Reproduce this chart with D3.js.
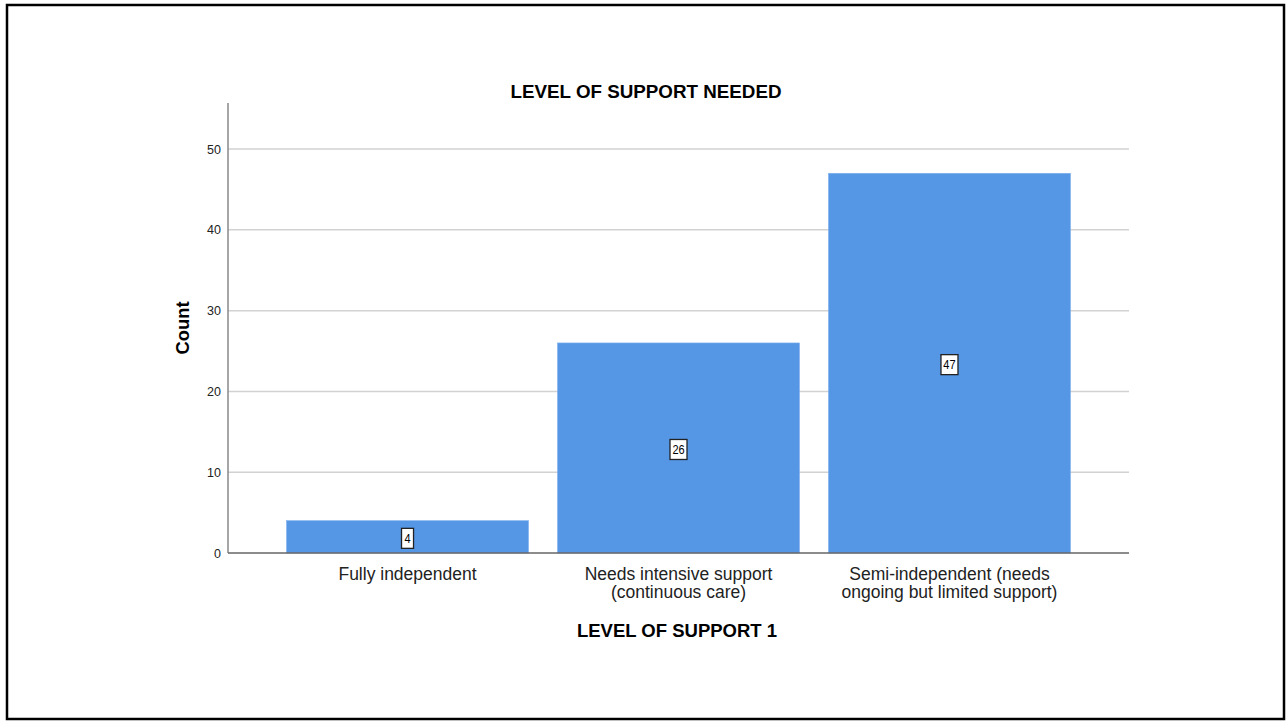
<!DOCTYPE html>
<html>
<head>
<meta charset="utf-8">
<title>Level of support needed</title>
<style>
  body { margin: 0; background: #fff; }
  svg text { font-family: "Liberation Sans", Arial, sans-serif; }
</style>
</head>
<body>
<div id="chart"></div>
<script src="https://d3js.org/d3.v7.min.js"></script>
<script>
// data
var categories = [
    ["Fully independent"],
    ["Needs intensive support", "(continuous care)"],
    ["Semi-independent (needs", "ongoing but limited support)"]
];
var counts = [4, 26, 47];
var yTicks = [0, 10, 20, 30, 40, 50];

var W = 1286, H = 721;
var plotLeft = 228, plotRight = 1129, plotTop = 103, plotBottom = 553;

var svg = d3.select("#chart").append("svg")
    .attr("width", W)
    .attr("height", H);

// outer frame
svg.append("rect")
    .attr("x", 7).attr("y", 5)
    .attr("width", 1277).attr("height", 714)
    .attr("fill", "none")
    .attr("stroke", "#000")
    .attr("stroke-width", 2.5);

var x = d3.scaleBand()
    .domain(d3.range(counts.length))
    .range([plotLeft, plotRight])
    .paddingInner(0.107)
    .paddingOuter(0.216);

var y = d3.scaleLinear()
    .domain([0, 55.7])
    .range([plotBottom, plotTop]);

// gridlines
svg.selectAll("line.grid")
    .data(yTicks.filter(function(d) { return d > 0; }))
    .enter().append("line")
    .attr("class", "grid")
    .attr("x1", plotLeft).attr("x2", plotRight)
    .attr("y1", function(d) { return y(d); })
    .attr("y2", function(d) { return y(d); })
    .attr("stroke", "#d2d2d2")
    .attr("stroke-width", 1.5);

// bars
svg.selectAll("rect.bar")
    .data(counts)
    .enter().append("rect")
    .attr("class", "bar")
    .attr("x", function(d, i) { return x(i); })
    .attr("y", function(d) { return y(d); })
    .attr("width", x.bandwidth())
    .attr("height", function(d) { return plotBottom - y(d); })
    .attr("fill", "#5596e5")
    .attr("stroke", "#7fb0ee")
    .attr("stroke-width", 0.6);

// y axis
var yAxis = svg.append("g")
    .attr("transform", "translate(" + plotLeft + ",0)")
    .call(d3.axisLeft(y).tickValues(yTicks).tickSize(0).tickPadding(7));
yAxis.select(".domain").remove();
yAxis.selectAll("text")
    .attr("font-size", 12.5)
    .attr("fill", "#222")
    .style("font-family", "'Liberation Sans', Arial, sans-serif");

svg.append("line")
    .attr("x1", plotLeft).attr("x2", plotLeft)
    .attr("y1", plotTop).attr("y2", plotBottom)
    .attr("stroke", "#888").attr("stroke-width", 1.5);

// x axis
svg.append("line")
    .attr("x1", plotLeft).attr("x2", plotRight)
    .attr("y1", plotBottom).attr("y2", plotBottom)
    .attr("stroke", "#666").attr("stroke-width", 1.3);

var catLabels = svg.selectAll("text.cat")
    .data(categories)
    .enter().append("text")
    .attr("class", "cat")
    .attr("text-anchor", "middle")
    .attr("font-size", 17.5)
    .attr("fill", "#222")
    .attr("x", function(d, i) { return x(i) + x.bandwidth() / 2; })
    .attr("y", 580);
catLabels.selectAll("tspan")
    .data(function(d) { return d; })
    .enter().append("tspan")
    .attr("x", function() { return d3.select(this.parentNode).attr("x"); })
    .attr("dy", function(d, j) { return j === 0 ? 0 : 18; })
    .text(function(d) { return d; });

// value labels in boxes
var lab = svg.selectAll("g.vlabel")
    .data(counts)
    .enter().append("g")
    .attr("class", "vlabel")
    .attr("transform", function(d, i) {
        return "translate(" + (x(i) + x.bandwidth() / 2) + "," + ((y(d) + plotBottom) / 2 + 1.5) + ")";
    });
lab.append("rect")
    .attr("x", function(d) { return String(d).length > 1 ? -8.5 : -6; })
    .attr("y", -10)
    .attr("width", function(d) { return String(d).length > 1 ? 17 : 12; })
    .attr("height", 20)
    .attr("fill", "#fff")
    .attr("stroke", "#222")
    .attr("stroke-width", 1.3);
lab.append("text")
    .attr("text-anchor", "middle")
    .attr("dy", "0.36em")
    .attr("font-size", 12.5)
    .attr("transform", "scale(0.88,1)")
    .attr("fill", "#000")
    .text(function(d) { return d; });

// titles
svg.append("text")
    .attr("x", 646).attr("y", 98)
    .attr("text-anchor", "middle")
    .attr("font-size", 18.8)
    .attr("font-weight", "bold")
    .text("LEVEL OF SUPPORT NEEDED");

svg.append("text")
    .attr("x", 677).attr("y", 637)
    .attr("text-anchor", "middle")
    .attr("font-size", 18.5)
    .attr("font-weight", "bold")
    .text("LEVEL OF SUPPORT 1");

svg.append("text")
    .attr("transform", "translate(189,328) rotate(-90)")
    .attr("text-anchor", "middle")
    .attr("font-size", 18.4)
    .attr("font-weight", "bold")
    .text("Count");
</script>
</body>
</html>
